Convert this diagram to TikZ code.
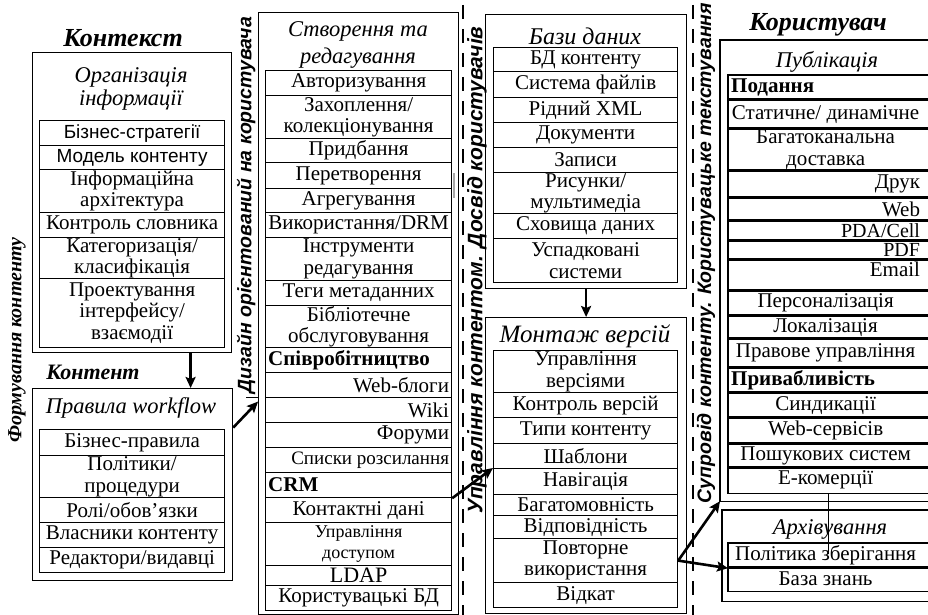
\documentclass[tikz,border=0pt]{standalone}
\usepackage{fontspec}
\setmainfont{Liberation Serif}
\setsansfont{Liberation Sans}
\usetikzlibrary{arrows.meta,calc}

% type sizes
\newcommand\rowsize{\fontsize{21}{21.5}\selectfont}
\newcommand\sansrow{\sffamily\fontsize{19}{21}\selectfont}
\newcommand\headsize{\itshape\fontsize{22.5}{22.5}\selectfont}
\newcommand\titlesize{\bfseries\itshape\fontsize{26}{28}\selectfont}
\newcommand\sidesans{\sffamily\bfseries\itshape\fontsize{19.5}{22}\selectfont}

\tikzset{
  rule/.style={line width=1.2pt},
  cellbox/.style={draw, rule, inner sep=0pt, anchor=north west, align=center, font=\rowsize},
  frame/.style={draw, rule, inner sep=0pt, anchor=north west},
  open/.style={draw=none},
  celltext/.style={inner sep=0pt, font=\rowsize},
  title/.style={inner sep=0pt, font=\titlesize},
  head/.style={inner sep=0pt, align=center, font=\headsize},
  side/.style={inner sep=0pt, rotate=90},
  arr/.style={line width=2.6pt, -{Stealth[length=11pt,width=10pt,inset=2pt]}},
  divider/.style={line width=1.2pt, dash pattern=on 14pt off 10pt},
}

% table rows: [box options]{name}{x,y of top left}{width}{height}{text}
\newcommand\cellC[6][]{\node[cellbox,minimum width=#4pt,minimum height=#5pt,#1] (#2) at (#3) {#6};}
\newcommand\cellL[6][]{\node[cellbox,minimum width=#4pt,minimum height=#5pt,#1] (#2) at (#3) {};
  \node[celltext,anchor=west] (#2-t) at ([xshift=3pt]#2.west) {#6};}
\newcommand\cellR[6][]{\node[cellbox,minimum width=#4pt,minimum height=#5pt,#1] (#2) at (#3) {};
  \node[celltext,anchor=east] (#2-t) at ([xshift=-3pt]#2.east) {#6};}
% rows that run on past the right edge of the page
\newcommand\openrow[1]{\draw[rule] ([xshift=40pt]#1.north east) -- (#1.north west) -- (#1.south west) -- ([xshift=40pt]#1.south east);}

\begin{document}
\begin{tikzpicture}[x=1pt,y=-1pt]
\useasboundingbox (0,0) rectangle (928,615);
\clip (0,0) rectangle (928,615);

% ---------- column 1: context and content ----------
\node[frame, minimum width=199pt, minimum height=300pt] (ctx) at (32,52) {};
\node[title] (ctx-title) at (123,38) {Контекст};
\node[head] (ctx-head) at (131,89) {Організація\\інформації};
\cellC[font=\sansrow]{bs}{39,120}{185}{25}{Бізнес-стратегії}
\cellC[font=\sansrow]{mk}{39,145}{185}{24}{Модель контенту}
\cellC{ia}{39,169}{185}{43}{Інформаційна\\архітектура}
\cellC{ks}{39,212}{185}{25}{Контроль словника}
\cellC{kk}{39,237}{185}{41}{Категоризація/\\класифікація}
\cellC{pi}{39,278}{185}{69}{Проектування\\інтерфейсу/\\взаємодії}

\node[frame, minimum width=200pt, minimum height=192pt] (cnt) at (32,388) {};
\node[title, font=\bfseries\itshape\fontsize{22}{24}\selectfont] (cnt-title) at (93,372) {Контент};
\node[head] (cnt-head) at (131,408) {Правила workflow};
\cellC{br}{39,429}{185}{26}{Бізнес-правила}
\cellC{pp}{39,455}{185}{42}{Політики/\\процедури}
\cellC{ro}{39,497}{185}{25}{Ролі/обов'язки}
\cellC{vk}{39,522}{185}{25}{Власники контенту}
\cellC{rv}{39,547}{185}{25}{Редактори/видавці}

\node[side, font=\bfseries\itshape\fontsize{20}{22}\selectfont] (side1) at (17,340) {Формування контенту};

% ---------- column 2: creation and editing ----------
\node[frame, minimum width=200pt, minimum height=602pt] (col2) at (258,12) {};
\node[head, font=\itshape\fontsize{22.5}{27}\selectfont] (col2-head) at (358,45) {Створення та\\редагування};
\cellC{av}{265,70}{186}{25}{Авторизування}
\cellC{zk}{265,95}{186}{43}{Захоплення/\\колекціонування}
\cellC{pb}{265,138}{186}{24}{Придбання}
\cellC{pt}{265,162}{186}{26}{Перетворення}
\cellC{ag}{265,188}{186}{24}{Агрегування}
\cellC{dr}{265,212}{186}{25}{Використання/DRM}
\cellC{ir}{265,237}{186}{43}{Інструменти\\редагування}
\cellC{tm}{265,280}{186}{25}{Теги метаданних}
\cellC{bo}{265,305}{186}{42}{Бібліотечне\\обслуговування}
\cellL{sp}{265,347}{186}{25}{\textbf{Співробітництво}}
\cellR{wb}{265,372}{186}{25}{Web-блоги}
\cellR{wk}{265,397}{186}{25}{Wiki}
\cellR{fr}{265,422}{186}{25}{Форуми}
\cellR{sr}{265,447}{186}{25}{{\fontsize{19}{20}\selectfont Списки розсилання}}
\cellL{crm}{265,472}{186}{25}{\textbf{CRM}}
\cellC{kd}{265,497}{186}{25}{Контактні дані}
\cellC[font=\fontsize{18}{20.5}\selectfont]{ud}{265,522}{186}{43}{Управління\\доступом}
\cellC[font=\fontsize{22}{22}\selectfont]{ld}{265,565}{186}{20}{LDAP}
\cellC{kb}{265,585}{186}{25}{Користувацькі БД}

\node[side, font=\sidesans] (side2) at (246,205) {Дизайн орієнтований на користувача};
\draw[line width=0.8pt] ([yshift=-84pt]col2.west) -- ++(-12,0);
\draw[gray!70, line width=1.6pt] ([xshift=2pt,yshift=-11pt]pt.north east) -- ++(0,25);

% ---------- column 3: repositories and version assembly ----------
\draw[divider] (463,5) -- (463,615);
\node[side, font=\sffamily\bfseries\itshape\fontsize{21}{22}\selectfont] (side3) at (477,270) {Управління контентом. Досвід користувачів};

\node[frame, minimum width=201pt, minimum height=274pt] (db) at (485,14) {};
\node[head, font=\itshape\fontsize{24}{24}\selectfont] (db-head) at (585,36) {Бази даних};
\cellC{db1}{493,47}{184}{24}{БД контенту}
\cellC{db2}{493,71}{184}{26}{Система файлів}
\cellC{db3}{493,97}{184}{25}{Рідний XML}
\cellC{db4}{493,122}{184}{25}{Документи}
\cellC{db5}{493,147}{184}{25}{Записи}
\cellC{db6}{493,172}{184}{41}{Рисунки/\\мультимедіа}
\cellC{db7}{493,213}{184}{25}{Сховища даних}
\cellC{db8}{493,238}{184}{44}{Успадковані\\системи}

\node[frame, minimum width=201pt, minimum height=296pt] (mv) at (485,317) {};
\node[head, font=\itshape\fontsize{25}{25}\selectfont] (mv-head) at (585,336) {Монтаж версій};
\cellC{mv1}{493,350}{184}{42}{Управління\\версіями}
\cellC{mv2}{493,392}{184}{25}{Контроль версій}
\cellC{mv3}{493,417}{184}{26}{Типи контенту}
\cellC{mv4}{493,443}{184}{25}{Шаблони}
\cellC{mv5}{493,468}{184}{26}{Навігація}
\cellC{mv6}{493,494}{184}{21}{Багатомовність}
\cellC{mv7}{493,515}{184}{23}{Відповідність}
\cellC{mv8}{493,538}{184}{44}{Повторне\\використання}
\cellC{mv9}{493,582}{184}{25}{Відкат}

% ---------- column 4: user ----------
\draw[divider] (693,5) -- (693,615);
\node[side, font=\sidesans] (side4) at (706,253) {Супровід контенту. Користувацьке текстування};

\node[frame, open, minimum width=202pt, minimum height=460pt] (pub) at (720,40) {};
\openrow{pub}
\node[title] (pub-title) at (818,25) {Користувач};
\node[head] (pub-head) at (827,62) {Публікація};
\cellL[open]{u1}{728,75}{194}{24}{\textbf{Подання}}
\cellC[open]{u2}{728,99}{194}{29}{Статичне/ динамічне}
\cellC[open]{u3}{728,128}{194}{42}{Багатоканальна\\доставка}
\cellR[open]{u4}{728,170}{194}{27}{Друк}
\cellR[open]{u5}{728,197}{194}{23}{Web}
\cellR[open]{u6}{728,220}{194}{20}{{\fontsize{20}{20}\selectfont PDA/Cell}}
\cellR[open]{u7}{728,240}{194}{19}{{\fontsize{20}{20}\selectfont PDF}}
\cellR[open]{u8}{728,259}{194}{31}{}
\node[celltext, anchor=east] (u8-t2) at ([xshift=-3pt,yshift=6pt]u8.east) {Email};
\cellC[open]{u9}{728,290}{194}{25}{Персоналізація}
\cellC[open]{u10}{728,315}{194}{23}{Локалізація}
\cellC[open]{u11}{728,338}{194}{29}{Правове управління}
\cellL[open]{u12}{728,367}{194}{25}{\textbf{Привабливість}}
\cellC[open]{u13}{728,392}{194}{25}{Синдикації}
\cellC[open]{u14}{728,417}{194}{26}{Web-сервісів}
\cellC[open]{u15}{728,443}{194}{24}{Пошукових систем}
\cellC[open]{ek}{728,467}{194}{25}{Е-комерції}
\foreach \r in {u1,u2,u3,u4,u5,u6,u7,u8,u9,u10,u11,u12,u13,u14,u15,ek} {\openrow{\r}}

\node[frame, open, minimum width=200pt, minimum height=90pt] (arch) at (722,510) {};
\openrow{arch}
\node[head] (arch-head) at (830,529) {Архівування};
\cellC[open]{ar1}{728,543}{194}{24}{Політика зберігання}
\cellC[open]{ar2}{728,567}{194}{23}{База знань}
\openrow{ar1}
\openrow{ar2}
\draw[line width=0.8pt] ([xshift=3pt]ek.south) -- ++(0,61);

% ---------- flow arrows ----------
\draw[arr] ([xshift=58.5pt]ctx.south) -- ([xshift=58pt]cnt.north);
\draw[arr] ([yshift=57pt]cnt.east) -- ([yshift=-88pt]col2.west);
\draw[arr] (crm.south east) -- (mv5.north west);
\draw[arr] (db.south) -- (mv.north);
\draw[arr] (mv8.east) -- (pub.south west);
\draw[arr] (mv8.east) -- (ar1.south west);
\end{tikzpicture}
\end{document}
